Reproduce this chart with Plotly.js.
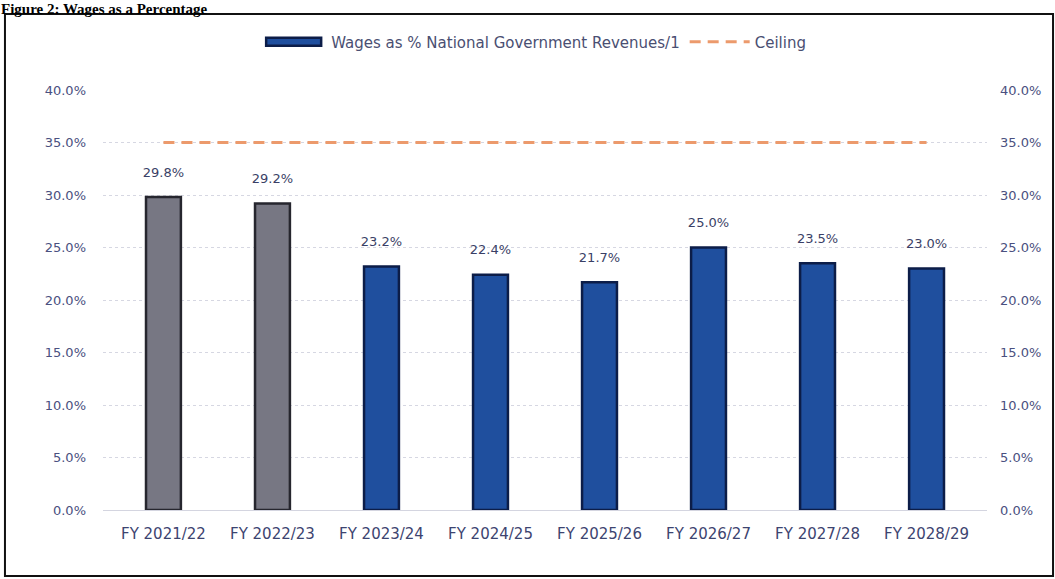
<!DOCTYPE html>
<html>
<head>
<meta charset="utf-8">
<script src="https://cdn.plot.ly/plotly-3.0.1.min.js"></script>
<style>html,body{margin:0;padding:0;background:#fff;}#chart{width:1055px;height:579px;}</style>
</head>
<body>
<div id="chart"></div>
<script>
const categories = ["FY 2021/22","FY 2022/23","FY 2023/24","FY 2024/25","FY 2025/26","FY 2026/27","FY 2027/28","FY 2028/29"];
const actualWages = [29.8, 29.2, null, null, null, null, null, null];
const projectedWages = [null, null, 23.2, 22.4, 21.7, 25.0, 23.5, 23.0];
const wageLabels = [29.8, 29.2, 23.2, 22.4, 21.7, 25.0, 23.5, 23.0];
const ceiling = [35, 35, 35, 35, 35, 35, 35, 35];
const tickValues = [0, 5, 10, 15, 20, 25, 30, 35, 40];
const tickLabels = ["0.0%","5.0%","10.0%","15.0%","20.0%","25.0%","30.0%","35.0%","40.0%"];

const FAM = "DejaVu Sans, Verdana, sans-serif";
const tickFont = {family: FAM, size: 13, color: "#4a5080"};
const catFont = {family: FAM, size: 15, color: "#3d4470"};
const valFont = {family: FAM, size: 13, color: "#3a3f66"};
const legFont = {family: FAM, size: 15, color: "#4a4f72"};

const traces = [
  {
    type: "bar", x: categories, y: actualWages, showlegend: false,
    name: "Wages as % National Government Revenues/1",
    marker: {color: "#777783", line: {color: "#26262e", width: 2.5}},
    hoverinfo: "x+y"
  },
  {
    type: "bar", x: categories, y: projectedWages,
    name: "Wages as % National Government Revenues/1",
    marker: {color: "#1f4f9e", line: {color: "#0c1d48", width: 2.5}},
    hoverinfo: "x+y"
  },
  {
    type: "scatter", mode: "markers+text", x: categories, y: wageLabels, showlegend: false,
    marker: {size: 26, opacity: 0}, texttemplate: "%{y:.1f}%", textposition: "top center",
    textfont: valFont, cliponaxis: false, hoverinfo: "skip"
  },
  {
    type: "scatter", mode: "lines", x: categories, y: ceiling, yaxis: "y2",
    name: "Ceiling",
    line: {color: "#ec9a6c", width: 3, dash: "11px,7px"}
  }
];

const axisCommon = {
  range: [0, 40], tickvals: tickValues, ticktext: tickLabels,
  tickfont: tickFont, showline: false, zeroline: false, fixedrange: true
};

const layout = {
  width: 1055, height: 579,
  paper_bgcolor: "#ffffff", plot_bgcolor: "#ffffff",
  margin: {l: 103, r: 68, t: 90, b: 69},
  barmode: "overlay", bargap: 0.68,
  font: tickFont,
  xaxis: {
    type: "category", tickfont: catFont, showgrid: false, zeroline: false,
    showline: true, linecolor: "#d4d5e0", linewidth: 1, ticks: "", fixedrange: true,
    ticklabelstandoff: 10
  },
  yaxis: Object.assign({}, axisCommon, {
    side: "left", showgrid: true, gridcolor: "#d6d7e2", griddash: "dot", gridwidth: 1,
    ticklabelstandoff: 16
  }),
  yaxis2: Object.assign({}, axisCommon, {
    side: "right", overlaying: "y", showgrid: false, ticklabelstandoff: 12
  }),
  legend: {
    orientation: "h", x: 0.49, xanchor: "center", y: 1.114, yanchor: "middle",
    font: legFont, bgcolor: "rgba(0,0,0,0)", itemwidth: 60, traceorder: "normal"
  },
  annotations: [
    {
      xref: "paper", yref: "paper", x: -0.1165, y: 1.2143, xanchor: "left", yanchor: "top",
      text: "<b>Figure 2: Wages as a Percentage</b>", showarrow: false, borderpad: 0,
      font: {family: "Liberation Serif, Times New Roman, serif", size: 15, color: "#000"}
    }
  ],
  shapes: [
    {
      type: "rect", xref: "paper", yref: "paper",
      x0: -0.1109, x1: 1.0747, y0: -0.157, y1: 1.181,
      line: {color: "#111", width: 2}, fillcolor: "rgba(0,0,0,0)"
    }
  ]
};

Plotly.newPlot("chart", traces, layout, {displayModeBar: false, staticPlot: true}).then(function (gd) {
  // widen the bar legend swatch to a long bar like the reference
  const items = gd.querySelectorAll(".legend .traces");
  items.forEach(function (t) {
    const p = t.querySelector(".legendpoints path");
    const txt = t.querySelector(".legendtext");
    if (txt && txt.textContent.indexOf("Wages") === 0 && p) {
      p.setAttribute("d", "M-30,-4H25V4H-30Z");
    }
  });
});
</script>
</body>
</html>
